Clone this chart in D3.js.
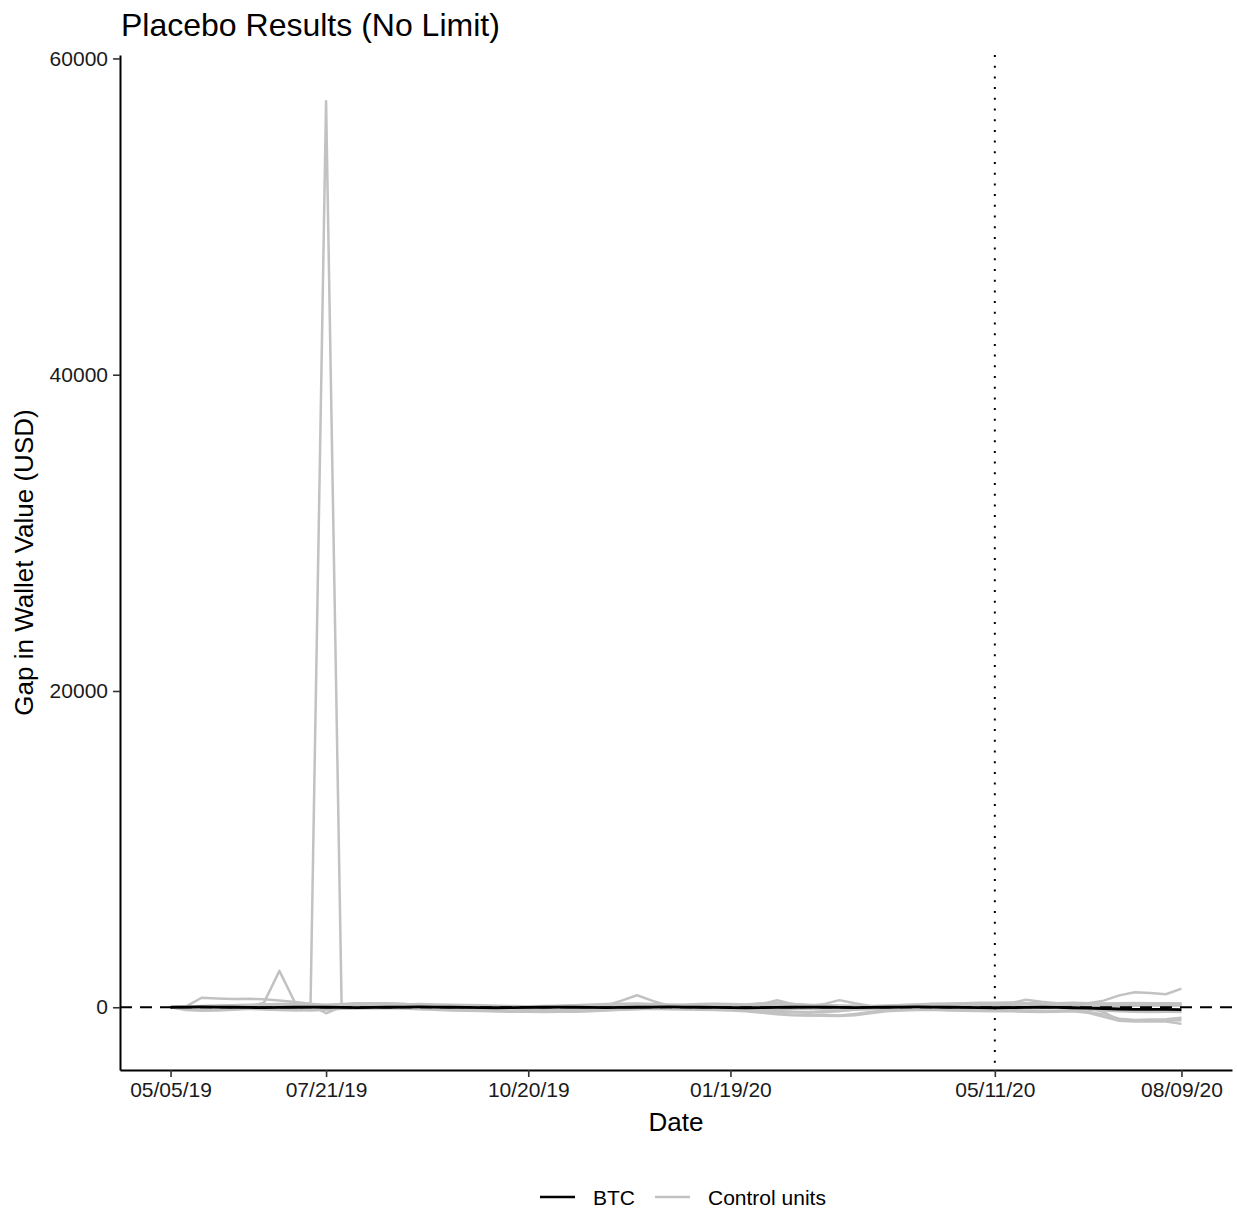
<!DOCTYPE html>
<html>
  <head>
    <title>Placebo Results</title>
    <script src="https://d3js.org/d3.v7.min.js" charset="utf-8"></script>
    <style type="text/css">
      body { margin: 0; background: #fff; }
      svg text { font-family: "Liberation Sans", Arial, sans-serif; }
    </style>
  </head>
  <body>
    <script type="text/javascript">

      // x axis: weekly periods, labels at selected periods
      var tickIdx = [0, 10, 23, 36, 53, 65];
      var tickLabels = ["05/05/19", "07/21/19", "10/20/19", "01/19/20", "05/11/20", "08/09/20"];
      var treatIdx = 53;
      var yTicks = [0, 20000, 40000, 60000];

      // BTC gap (treated unit)
      var btc = [0, 10, 20, 10, 0, -10, -20, -10, 0, 10,
                 0, -10, -20, -10, 0, 10, 20, 10, 0, -10,
                 -20, -30, -20, -10, 0, 10, 0, -10, -20, -10,
                 0, 10, 20, 10, 0, -10, -20, -30, -20, -10,
                 0, 10, 0, -10, -20, -10, 0, 10, 20, 10,
                 0, -10, -20, -30, -20, -10, 0, -10, -30, -50,
                 -80, -110, -130, -140, -140, -150];

      // control units (placebo gaps)
      var ctrl1 = [0, -60, -120, -100, -80, -60, -40, -20, 0, 80,
                   57300, 40, 60, 80, 60, 40, 20, 0, -20, 0,
                   20, 40, 20, 0, -20, -40, -20, 0, 20, 40,
                   60, 40, 20, 0, -20, 0, 20, 40, 60, 80,
                   60, 40, 20, 0, -20, 0, 20, 40, 20, 0,
                   -20, -40, -20, 0, 20, 40, 20, 0, 20, 40,
                   60, 80, 100, 120, 100, 120];
      var ctrl2 = [0, 60, 600, 560, 520, 540, 500, 420, 330, 220,
                   60, 120, 250, 260, 230, 200, 160, 120, 100, 80,
                   60, 40, 20, 0, 10, 30, 50, 80, 120, 150,
                   200, 180, 160, 140, 130, 120, 110, 150, 200, 250,
                   200, 150, 120, 100, 80, 60, 80, 120, 160, 200,
                   180, 160, 150, 160, 200, 250, 260, 240, 220, 230,
                   200, 250, 270, 260, 250, 240];
      var ctrl3 = [0, -40, -80, -60, -20, 40, 280, 2300, 300, 150,
                   -380, 20, 40, 30, 20, 10, 0, -10, -20, -10,
                   0, 10, 20, 30, 20, 10, 0, -10, -20, -10,
                   0, 20, 40, 60, 40, 20, 0, -20, -60, -100,
                   -120, -100, -80, -60, -40, -20, 0, 20, 40, 20,
                   0, -20, -40, -20, 0, 20, 0, -20, -40, -60,
                   -100, -200, -260, -240, -260, -280];
      var ctrl4 = [0, 20, 40, 60, 80, 100, 120, 100, 80, 60,
                   40, 180, 260, 250, 230, 200, 150, 120, 100, 80,
                   60, 50, 40, 30, 20, 40, 60, 80, 120, 420,
                   760, 400, 120, 100, 90, 80, 70, 100, 200, 450,
                   200, 150, 120, 100, 90, 80, 80, 60, 80, 100,
                   120, 140, 160, 180, 250, 480, 350, 250, 200, 260,
                   420, 750, 950, 900, 820, 1180];
      var ctrl5 = [0, -180, -220, -200, -150, -100, -80, -120, -160, -200,
                   -150, -100, -80, -60, -50, -40, -60, -80, -100, -120,
                   -160, -200, -230, -250, -260, -240, -250, -220, -180, -140,
                   -100, -80, -60, -80, -100, -120, -150, -200, -300, -400,
                   -480, -500, -480, -520, -420, -300, -200, -150, -120, -100,
                   -120, -140, -150, -160, -180, -200, -220, -240, -200, -300,
                   -450, -720, -800, -780, -760, -670];
      var ctrl6 = [0, 40, 80, 100, 120, 140, 160, 140, 120, 100,
                   80, 100, 120, 140, 160, 180, 200, 180, 160, 140,
                   120, 100, 80, 60, 80, 100, 120, 140, 160, 180,
                   160, 140, 120, 160, 200, 220, 200, 180, 250, 300,
                   150, 50, 200, 450, 250, 80, 60, 40, 60, 80,
                   100, 120, 140, 160, 180, 200, 180, 160, 120, 0,
                   -300, -820, -850, -840, -830, -820];
      var ctrl7 = [0, -100, -150, -120, -100, -80, -60, -40, -20, -60,
                   -100, -80, -60, -40, -60, -80, -120, -160, -200, -220,
                   -240, -270, -280, -290, -300, -290, -280, -260, -200, -150,
                   -120, -100, -120, -140, -160, -180, -200, -250, -350, -450,
                   -500, -520, -540, -560, -500, -380, -250, -200, -180, -160,
                   -200, -220, -240, -250, -260, -280, -300, -280, -260, -350,
                   -600, -850, -900, -880, -900, -1050];
      var ctrl8 = [0, -20, -40, -20, 0, 20, 40, 60, 40, 20,
                   0, 40, 80, 100, 120, 100, 80, 60, 40, 20,
                   0, -20, -40, -60, -40, -20, 0, 20, 40, 60,
                   80, 100, 80, 60, 40, 20, 0, -20, -100, -200,
                   -300, -350, -300, -250, -150, -50, 0, 50, 100, 150,
                   200, 220, 250, 280, 300, 250, 200, 150, 180, 200,
                   180, 160, 150, 140, 150, 130];
      var ctrl9 = [0, -120, -160, -140, -120, -100, -140, -180, -200, -160,
                   -120, -60, 0, 60, 100, 140, 160, 120, 80, 40,
                   0, -40, -80, -120, -160, -180, -160, -140, -100, -60,
                   -20, 20, 60, 40, 0, -40, -80, -150, -220, -280,
                   -320, -300, -260, -200, -160, -120, -80, -40, 0, 40,
                   80, 100, 120, 100, 60, 20, -20, -60, -100, -160,
                   -200, -260, -280, -300, -290, -300];
      var ctrl10 = [0, 30, 60, 90, 120, 150, 180, 200, 220, 200,
                    160, 200, 220, 240, 220, 180, 140, 100, 60, 40,
                    20, 0, -20, 0, 40, 80, 120, 160, 200, 220,
                    240, 200, 160, 120, 100, 80, 100, 150, 220, 260,
                    200, 120, 80, 60, 40, 60, 100, 140, 180, 220,
                    240, 260, 280, 260, 240, 220, 240, 260, 280, 260,
                    240, 220, 200, 220, 240, 220];
      var controls = [ctrl1, ctrl2, ctrl3, ctrl4, ctrl5, ctrl6, ctrl7, ctrl8, ctrl9, ctrl10];

      // Setup size
      var width = 1237;
      var height = 1209;
      var panel = { left: 120, right: 1232, top: 55, bottom: 1070 };

      var svg = d3.select("body")
          .append("svg")
          .attr("width", width)
          .attr("height", height);

      // scales with ggplot-like 5% expansion
      var nPts = btc.length;
      var xPad = 0.05 * (nPts - 1);
      var x = d3.scaleLinear()
          .domain([-xPad, nPts - 1 + xPad])
          .range([panel.left, panel.right]);

      var allVals = d3.merge(controls.concat([btc]));
      var yMin = d3.min(allVals), yMax = d3.max(allVals);
      var yPad = 0.05 * (yMax - yMin);
      var y = d3.scaleLinear()
          .domain([yMin - yPad, yMax + yPad])
          .range([panel.bottom, panel.top]);

      var line = d3.line()
          .x(function(d, i) { return x(i); })
          .y(function(d) { return y(d); });

      // control units
      svg.append("g").selectAll("path")
          .data(controls)
          .enter().append("path")
          .attr("d", line)
          .style("fill", "none")
          .style("stroke", "#c2c2c2")
          .style("stroke-width", 2.5)
          .style("stroke-linejoin", "round");

      // BTC
      svg.append("path")
          .datum(btc)
          .attr("d", line)
          .style("fill", "none")
          .style("stroke", "#000")
          .style("stroke-width", 2.8);

      // zero line
      svg.append("line")
          .attr("x1", panel.left).attr("x2", panel.right)
          .attr("y1", y(0)).attr("y2", y(0))
          .style("stroke", "#000")
          .style("stroke-width", 2)
          .style("stroke-dasharray", "12,8");

      // treatment line
      svg.append("line")
          .attr("x1", x(treatIdx)).attr("x2", x(treatIdx))
          .attr("y1", panel.top).attr("y2", panel.bottom)
          .style("stroke", "#000")
          .style("stroke-width", 2)
          .style("stroke-dasharray", "2,8.7");

      // axes
      var xAxis = d3.axisBottom(x)
          .tickValues(tickIdx)
          .tickFormat(function(d, i) { return tickLabels[i]; })
          .tickSize(7)
          .tickSizeOuter(0)
          .tickPadding(5);
      var yAxis = d3.axisLeft(y)
          .tickValues(yTicks)
          .tickFormat(d3.format("d"))
          .tickSize(7)
          .tickSizeOuter(0)
          .tickPadding(5);

      var gx = svg.append("g")
          .attr("transform", "translate(0," + panel.bottom + ")")
          .call(xAxis);
      var gy = svg.append("g")
          .attr("transform", "translate(" + panel.left + ",0)")
          .call(yAxis);

      [gx, gy].forEach(function(g) {
        g.select(".domain").style("stroke", "#000").style("stroke-width", 2);
        g.selectAll(".tick line").style("stroke", "#333").style("stroke-width", 1.6);
        g.selectAll(".tick text")
            .style("font-size", "21px")
            .style("fill", "#1a1a1a")
            .style("font-family", "'Liberation Sans', Arial, sans-serif");
      });

      // titles
      svg.append("text")
          .attr("x", panel.left + 1)
          .attr("y", 36)
          .style("font-size", "32px")
          .style("fill", "#000")
          .text("Placebo Results (No Limit)");

      svg.append("text")
          .attr("x", (panel.left + panel.right) / 2)
          .attr("y", 1131)
          .attr("text-anchor", "middle")
          .style("font-size", "26px")
          .style("fill", "#000")
          .text("Date");

      svg.append("text")
          .attr("transform", "translate(33," + (panel.top + panel.bottom) / 2 + ") rotate(-90)")
          .attr("text-anchor", "middle")
          .style("font-size", "26px")
          .style("fill", "#000")
          .text("Gap in Wallet Value (USD)");

      // legend
      var legendItems = [
        { label: "BTC", color: "#000", x: 540 },
        { label: "Control units", color: "#c2c2c2", x: 655 }
      ];
      var lg = svg.append("g").attr("transform", "translate(0,1197)");
      legendItems.forEach(function(d) {
        lg.append("line")
            .attr("x1", d.x).attr("x2", d.x + 35)
            .attr("y1", 0).attr("y2", 0)
            .style("stroke", d.color)
            .style("stroke-width", 2.6);
        lg.append("text")
            .attr("x", d.x + 53)
            .attr("y", 8)
            .style("font-size", "21px")
            .style("fill", "#000")
            .text(d.label);
      });

    </script>
  </body>
</html>
